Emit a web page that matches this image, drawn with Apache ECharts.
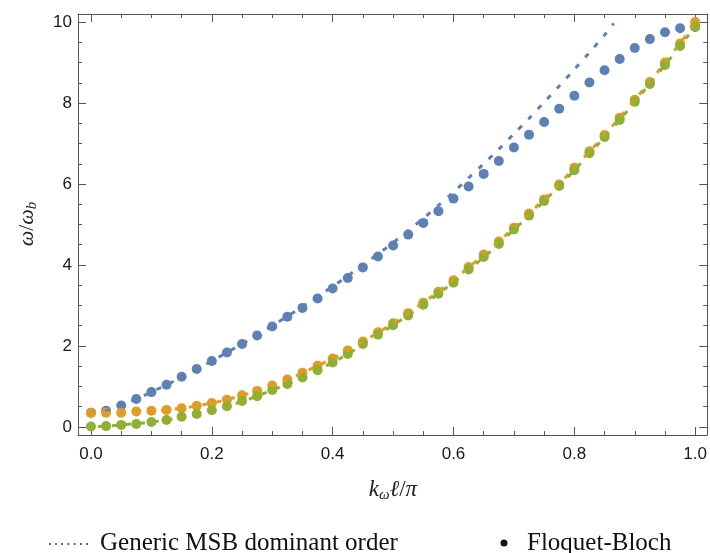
<!DOCTYPE html>
<html>
<head>
<meta charset="utf-8">
<script src="https://cdn.jsdelivr.net/npm/echarts@6/dist/echarts.min.js"></script>
<style>
html,body{margin:0;padding:0;background:#fff;}
#chart{width:710px;height:553px;}
</style>
</head>
<body>
<div id="chart"></div>
<script>
// k_omega * l / pi sample positions
const kValues = [0, 0.025, 0.05, 0.075, 0.1, 0.125, 0.15, 0.175, 0.2, 0.225, 0.25, 0.275, 0.3, 0.325, 0.35, 0.375, 0.4, 0.425, 0.45, 0.475, 0.5, 0.525, 0.55, 0.575, 0.6, 0.625, 0.65, 0.675, 0.7, 0.725, 0.75, 0.775, 0.8, 0.825, 0.85, 0.875, 0.9, 0.925, 0.95, 0.975, 1.0];

// Floquet-Bloch points (omega / omega_b)
const fbBlue = [0.35, 0.40, 0.53, 0.69, 0.86, 1.04, 1.24, 1.43, 1.63, 1.84, 2.05, 2.26, 2.48, 2.72, 2.94, 3.17, 3.42, 3.68, 3.94, 4.21, 4.48, 4.75, 5.04, 5.33, 5.64, 5.94, 6.25, 6.57, 6.90, 7.22, 7.53, 7.86, 8.18, 8.51, 8.81, 9.09, 9.36, 9.58, 9.75, 9.85, 9.88];
const fbOrange = [0.35, 0.35, 0.35, 0.38, 0.40, 0.42, 0.46, 0.52, 0.59, 0.67, 0.78, 0.89, 1.02, 1.17, 1.34, 1.51, 1.69, 1.89, 2.11, 2.34, 2.56, 2.81, 3.07, 3.34, 3.62, 3.95, 4.26, 4.58, 4.92, 5.27, 5.62, 5.99, 6.40, 6.81, 7.21, 7.64, 8.08, 8.52, 9.00, 9.47, 10.00];
const fbGreen = [0.01, 0.02, 0.05, 0.07, 0.12, 0.17, 0.25, 0.32, 0.41, 0.51, 0.64, 0.76, 0.91, 1.06, 1.22, 1.40, 1.59, 1.80, 2.05, 2.28, 2.51, 2.75, 3.02, 3.29, 3.56, 3.89, 4.20, 4.52, 4.88, 5.22, 5.58, 5.95, 6.34, 6.76, 7.16, 7.58, 8.03, 8.47, 8.94, 9.41, 9.89];

// Generic MSB dominant order curves
const msbBlueK = [0, 0.025, 0.05, 0.075, 0.1, 0.125, 0.15, 0.175, 0.2, 0.225, 0.25, 0.275, 0.3, 0.325, 0.35, 0.375, 0.4, 0.425, 0.45, 0.475, 0.5, 0.525, 0.55, 0.575, 0.6, 0.625, 0.65, 0.675, 0.7, 0.725, 0.75, 0.775, 0.8, 0.825, 0.85, 0.865];
const msbBlue = [0.35, 0.40, 0.53, 0.69, 0.86, 1.04, 1.23, 1.43, 1.63, 1.84, 2.05, 2.27, 2.50, 2.73, 2.97, 3.22, 3.47, 3.73, 4.00, 4.27, 4.55, 4.85, 5.15, 5.47, 5.80, 6.15, 6.50, 6.86, 7.24, 7.62, 8.02, 8.42, 8.83, 9.25, 9.68, 9.97];
const msbOrange = [0.35, 0.35, 0.36, 0.38, 0.40, 0.42, 0.46, 0.52, 0.59, 0.67, 0.78, 0.89, 1.02, 1.17, 1.33, 1.51, 1.69, 1.89, 2.10, 2.33, 2.56, 2.81, 3.07, 3.34, 3.63, 3.94, 4.25, 4.58, 4.92, 5.27, 5.63, 6.00, 6.40, 6.80, 7.21, 7.64, 8.08, 8.53, 9.00, 9.48, 9.98];
const msbGreen = [0.00, 0.02, 0.05, 0.08, 0.12, 0.17, 0.24, 0.32, 0.41, 0.51, 0.63, 0.76, 0.91, 1.06, 1.22, 1.40, 1.59, 1.80, 2.03, 2.27, 2.51, 2.76, 3.02, 3.29, 3.57, 3.88, 4.19, 4.52, 4.87, 5.22, 5.58, 5.95, 6.34, 6.75, 7.16, 7.58, 8.03, 8.48, 8.94, 9.41, 9.89];

// tick labels
const xMajorTicks = [0, 0.2, 0.4, 0.6, 0.8, 1.0];
const xMinorTicks = [0.05, 0.1, 0.15, 0.25, 0.3, 0.35, 0.45, 0.5, 0.55, 0.65, 0.7, 0.75, 0.85, 0.9, 0.95];
const yMajorTicks = [0, 2, 4, 6, 8, 10];
const yMinorTicks = [0.5, 1, 1.5, 2.5, 3, 3.5, 4.5, 5, 5.5, 6.5, 7, 7.5, 8.5, 9, 9.5];

const legendLabels = ['Generic MSB dominant order', 'Floquet-Bloch'];

const BLUE = '#5E81B5', ORANGE = '#E19C24', GREEN = '#8FB032';
const AX = '#555555';
const XMIN = -0.0215, XMAX = 1.02, YMIN = -0.2, YMAX = 10.2;

function zip(xs, ys) { return ys.map((y, i) => [xs[i], y]); }

function xAx(pos, ticks, len, showLine, showLabel) {
  return {
    type: 'value', min: XMIN, max: XMAX, position: pos, gridIndex: 0,
    axisLine: { show: showLine, onZero: false, lineStyle: { color: AX, width: 1 } },
    axisTick: { show: true, inside: true, length: len, customValues: ticks, lineStyle: { color: AX, width: 1 } },
    axisLabel: showLabel ? {
      show: true, customValues: ticks, margin: 11,
      formatter: v => v.toFixed(1),
      fontFamily: 'Liberation Sans, Arial, sans-serif', fontSize: 17, color: '#1a1a1a'
    } : { show: false },
    splitLine: { show: false }
  };
}
function yAx(pos, ticks, len, showLine, showLabel) {
  return {
    type: 'value', min: YMIN, max: YMAX, position: pos, gridIndex: 0,
    axisLine: { show: showLine, onZero: false, lineStyle: { color: AX, width: 1 } },
    axisTick: { show: true, inside: true, length: len, customValues: ticks, lineStyle: { color: AX, width: 1 } },
    axisLabel: showLabel ? {
      show: true, customValues: ticks, margin: 6,
      formatter: v => String(v),
      fontFamily: 'Liberation Sans, Arial, sans-serif', fontSize: 17, color: '#1a1a1a'
    } : { show: false },
    splitLine: { show: false }
  };
}

const chart = echarts.init(document.getElementById('chart'), null, { renderer: 'canvas' });

const dotStyle = c => ({ color: c, opacity: 1 });
const dash = [5, 9];
const option = {
  animation: false,
  backgroundColor: '#ffffff',
  grid: { left: 78, right: 1, top: 14, bottom: 118, containLabel: false },
  xAxis: [
    xAx('bottom', xMajorTicks, 8, true, true),
    xAx('bottom', xMinorTicks, 4, false, false),
    xAx('top', xMajorTicks, 8, true, false),
    xAx('top', xMinorTicks, 4, false, false)
  ],
  yAxis: [
    yAx('left', yMajorTicks, 8, true, true),
    yAx('left', yMinorTicks, 4, false, false),
    yAx('right', yMajorTicks, 8, true, false),
    yAx('right', yMinorTicks, 4, false, false)
  ],
  series: [
    { type: 'scatter', data: zip(kValues, fbBlue), symbol: 'circle', symbolSize: 10, itemStyle: dotStyle(BLUE), z: 2 },
    { type: 'scatter', data: zip(kValues, fbOrange), symbol: 'circle', symbolSize: 10, itemStyle: dotStyle(ORANGE), z: 3 },
    { type: 'scatter', data: zip(kValues, fbGreen), symbol: 'circle', symbolSize: 10, itemStyle: dotStyle(GREEN), z: 4 },
    { type: 'line', data: zip(msbBlueK, msbBlue), showSymbol: false, symbol: 'none', smooth: 0.3, z: 5,
      lineStyle: { color: BLUE, width: 3, type: dash, cap: 'butt' } },
    { type: 'line', data: zip(kValues, msbOrange), showSymbol: false, symbol: 'none', smooth: 0.3, z: 5,
      lineStyle: { color: ORANGE, width: 3, type: dash, cap: 'butt' } },
    { type: 'line', data: zip(kValues, msbGreen), showSymbol: false, symbol: 'none', smooth: 0.3, z: 6,
      lineStyle: { color: GREEN, width: 3, type: dash, dashOffset: 7, cap: 'butt' } }
  ],
  graphic: [
    { type: 'text', x: 27, y: 224, rotation: Math.PI / 2, originX: 0, originY: 0,
      style: {
        text: '{i|ω}{n|/}{i|ω}{s|b}', align: 'center', verticalAlign: 'middle',
        rich: {
          i: { fontFamily: 'Liberation Serif, serif', fontStyle: 'italic', fontSize: 22, fill: '#222' },
          n: { fontFamily: 'Liberation Serif, serif', fontSize: 22, fill: '#222' },
          s: { fontFamily: 'Liberation Serif, serif', fontStyle: 'italic', fontSize: 15, fill: '#222', padding: [10, 0, 0, 0] }
        }
      } },
    { type: 'text', x: 393, y: 490,
      style: {
        text: '{i|k}{s|ω}{i|ℓ}{n|/}{i|π}', align: 'center', verticalAlign: 'middle',
        rich: {
          i: { fontFamily: 'Liberation Serif, serif', fontStyle: 'italic', fontSize: 23, fill: '#222' },
          n: { fontFamily: 'Liberation Serif, serif', fontSize: 23, fill: '#222' },
          s: { fontFamily: 'Liberation Serif, serif', fontStyle: 'italic', fontSize: 15, fill: '#222', padding: [10, 0, 0, 0] }
        }
      } },
    { type: 'line', shape: { x1: 49, y1: 544, x2: 88, y2: 544 },
      style: { stroke: '#111', lineWidth: 1.6, lineDash: [1.6, 4.6] } },
    { type: 'text', x: 100, y: 543,
      style: { text: legendLabels[0], fontFamily: 'Liberation Serif, serif', fontSize: 25, fill: '#111', align: 'left', verticalAlign: 'middle' } },
    { type: 'circle', shape: { cx: 504, cy: 543, r: 3.5 }, style: { fill: '#111' } },
    { type: 'text', x: 527, y: 543,
      style: { text: legendLabels[1], fontFamily: 'Liberation Serif, serif', fontSize: 25, fill: '#111', align: 'left', verticalAlign: 'middle' } }
  ]
};
chart.setOption(option);
</script>
</body>
</html>
